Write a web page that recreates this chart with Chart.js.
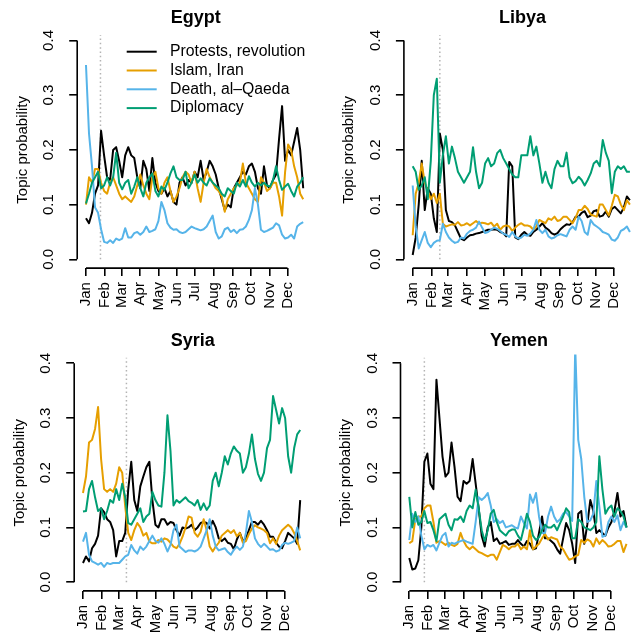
<!DOCTYPE html>
<html>
<head>
<meta charset="utf-8">
<title>Topic probability by country, 2011</title>
<script src="https://cdn.jsdelivr.net/npm/chart.js@4.4.1/dist/chart.umd.min.js"></script>
<style>
  html, body { margin: 0; padding: 0; background: #fff; }
  #sheet { position: relative; width: 634px; height: 638px; overflow: hidden; }
  #sheet canvas { position: absolute; }
</style>
</head>
<body>
<div id="sheet">
  <canvas id="egypt" width="320" height="319" style="left:0px;top:0px"></canvas>
  <canvas id="libya" width="320" height="319" style="left:326px;top:0px"></canvas>
  <canvas id="syria" width="320" height="319" style="left:0px;top:319px"></canvas>
  <canvas id="yemen" width="320" height="319" style="left:326px;top:319px"></canvas>
</div>
<script>
// day of year 2011 (0 = 1 Jan), one reading every 5 days
const days = [0,5,10,15,20,25,30,35,40,45,50,55,60,65,70,75,80,85,90,95,
  100,105,110,115,120,125,130,135,140,145,150,155,160,165,170,175,180,185,190,195,
  200,205,210,215,220,225,230,235,240,245,250,255,260,265,270,275,280,285,290,295,
  300,305,310,315,320,325,330,335,340,345,350,355,360];

const monthStarts = [0, 31, 59, 90, 120, 151, 181, 212, 243, 273, 304, 334];
const monthNames = ['Jan','Feb','Mar','Apr','May','Jun','Jul','Aug','Sep','Oct','Nov','Dec'];
const probTicks = [0, 0.1, 0.2, 0.3, 0.4];

const topicNames = ['Protests, revolution', 'Islam, Iran', 'Death, al\u2013Qaeda', 'Diplomacy'];
const topicColors = ['#000000', '#E69F00', '#56B4E9', '#009E73'];

// day the uprising started (dotted line)
const egyptStart = 24;
const libyaStart = 45;
const syriaStart = 72;
const yemenStart = 25;

// ---- Egypt
const egyptProtests = [0.075,0.066,0.085,0.12,0.135,0.235,0.19,0.15,0.145,0.2,
  0.205,0.18,0.15,0.19,0.205,0.19,0.185,0.15,0.13,0.18,
  0.165,0.125,0.185,0.14,0.125,0.12,0.13,0.115,0.125,0.105,
  0.10,0.14,0.15,0.135,0.145,0.14,0.16,0.15,0.18,0.145,
  0.16,0.18,0.17,0.155,0.13,0.11,0.09,0.10,0.095,0.13,
  0.14,0.15,0.16,0.155,0.17,0.175,0.16,0.13,0.12,0.17,
  0.135,0.13,0.145,0.155,0.22,0.28,0.18,0.2,0.19,0.215,
  0.24,0.2,0.13];
const egyptIslam = [0.10,0.15,0.14,0.165,0.165,0.14,0.125,0.12,0.14,0.15,
  0.135,0.12,0.11,0.115,0.11,0.105,0.115,0.135,0.155,0.135,
  0.12,0.11,0.15,0.16,0.13,0.12,0.14,0.15,0.125,0.105,
  0.115,0.13,0.15,0.16,0.155,0.14,0.16,0.13,0.105,0.14,
  0.165,0.15,0.14,0.13,0.125,0.115,0.087,0.11,0.12,0.13,
  0.135,0.14,0.175,0.14,0.13,0.12,0.11,0.105,0.15,0.14,
  0.125,0.13,0.14,0.14,0.115,0.08,0.16,0.21,0.2,0.17,
  0.15,0.12,0.11];
const egyptDeath = [0.355,0.23,0.17,0.095,0.085,0.055,0.032,0.03,0.035,0.03,
  0.038,0.035,0.038,0.057,0.04,0.04,0.048,0.05,0.045,0.05,
  0.06,0.05,0.052,0.055,0.07,0.105,0.09,0.066,0.058,0.054,
  0.055,0.05,0.048,0.05,0.055,0.06,0.057,0.055,0.053,0.055,
  0.06,0.07,0.08,0.05,0.038,0.042,0.055,0.058,0.05,0.054,
  0.048,0.054,0.055,0.06,0.072,0.09,0.13,0.1,0.054,0.05,
  0.052,0.055,0.058,0.066,0.062,0.045,0.038,0.04,0.045,0.038,
  0.06,0.065,0.068];
const egyptDiplomacy = [0.102,0.12,0.14,0.15,0.16,0.13,0.135,0.15,0.135,0.15,
  0.195,0.14,0.128,0.14,0.145,0.12,0.133,0.15,0.13,0.115,
  0.14,0.15,0.157,0.125,0.115,0.133,0.127,0.14,0.157,0.17,
  0.15,0.145,0.145,0.16,0.13,0.14,0.155,0.14,0.148,0.14,
  0.135,0.148,0.14,0.135,0.13,0.12,0.115,0.13,0.125,0.12,
  0.14,0.133,0.145,0.133,0.152,0.14,0.133,0.14,0.135,0.14,
  0.135,0.133,0.145,0.17,0.145,0.127,0.133,0.138,0.125,0.115,
  0.133,0.14,0.15];

// ---- Libya
const libyaProtests = [0.008,0.04,0.10,0.18,0.09,0.13,0.12,0.075,0.05,0.23,
  0.2,0.09,0.07,0.068,0.062,0.05,0.038,0.035,0.04,0.044,
  0.045,0.047,0.048,0.05,0.052,0.054,0.054,0.055,0.054,0.05,
  0.048,0.042,0.178,0.17,0.04,0.037,0.045,0.05,0.045,0.043,
  0.05,0.054,0.06,0.066,0.058,0.054,0.048,0.045,0.048,0.055,
  0.06,0.064,0.063,0.068,0.078,0.078,0.085,0.088,0.077,0.08,
  0.088,0.09,0.078,0.08,0.087,0.078,0.092,0.096,0.09,0.084,
  0.095,0.115,0.108];
const libyaIslam = [0.044,0.12,0.14,0.175,0.14,0.125,0.11,0.12,0.103,0.12,
  0.065,0.06,0.062,0.064,0.063,0.068,0.062,0.063,0.066,0.062,
  0.066,0.07,0.065,0.067,0.066,0.064,0.067,0.06,0.065,0.054,
  0.06,0.062,0.06,0.052,0.058,0.063,0.066,0.062,0.062,0.06,
  0.054,0.06,0.072,0.069,0.066,0.075,0.072,0.078,0.07,0.072,
  0.078,0.078,0.072,0.066,0.076,0.09,0.09,0.098,0.092,0.082,
  0.08,0.078,0.10,0.10,0.09,0.08,0.098,0.118,0.115,0.1,
  0.09,0.108,0.10];
const libyaDeath = [0.135,0.06,0.02,0.035,0.05,0.03,0.022,0.03,0.034,0.035,
  0.065,0.05,0.04,0.034,0.03,0.032,0.04,0.038,0.047,0.052,
  0.054,0.058,0.069,0.058,0.048,0.05,0.054,0.058,0.056,0.052,
  0.047,0.045,0.041,0.05,0.042,0.038,0.04,0.045,0.043,0.047,
  0.054,0.072,0.054,0.048,0.054,0.042,0.038,0.04,0.044,0.046,
  0.044,0.042,0.054,0.06,0.054,0.078,0.07,0.05,0.045,0.072,
  0.064,0.06,0.056,0.05,0.048,0.045,0.036,0.034,0.04,0.052,
  0.055,0.06,0.05];
const libyaDiplomacy = [0.17,0.16,0.127,0.135,0.15,0.11,0.18,0.30,0.33,0.14,
  0.19,0.225,0.175,0.206,0.185,0.16,0.15,0.14,0.15,0.16,
  0.205,0.16,0.13,0.14,0.175,0.185,0.17,0.175,0.194,0.2,
  0.185,0.175,0.165,0.155,0.15,0.15,0.19,0.19,0.19,0.225,
  0.19,0.206,0.175,0.14,0.16,0.14,0.13,0.165,0.18,0.17,
  0.17,0.195,0.15,0.139,0.143,0.151,0.145,0.135,0.145,0.157,
  0.175,0.18,0.17,0.218,0.195,0.18,0.121,0.16,0.17,0.165,
  0.17,0.16,0.16];

// ---- Syria
const syriaProtests = [0.035,0.047,0.038,0.062,0.07,0.085,0.135,0.128,0.115,0.11,
  0.095,0.047,0.075,0.075,0.09,0.17,0.22,0.15,0.13,0.175,
  0.193,0.21,0.22,0.15,0.105,0.1,0.115,0.115,0.105,0.11,
  0.108,0.095,0.085,0.1,0.098,0.1,0.105,0.095,0.1,0.108,
  0.11,0.108,0.098,0.112,0.1,0.08,0.075,0.08,0.072,0.07,
  0.06,0.078,0.09,0.075,0.08,0.095,0.11,0.11,0.105,0.112,
  0.105,0.095,0.083,0.083,0.072,0.065,0.062,0.075,0.09,0.085,
  0.08,0.07,0.15];
const syriaIslam = [0.163,0.193,0.255,0.26,0.28,0.32,0.225,0.17,0.165,0.17,
  0.165,0.18,0.21,0.2,0.138,0.09,0.077,0.095,0.108,0.1,
  0.085,0.09,0.074,0.071,0.071,0.077,0.074,0.08,0.078,0.072,
  0.065,0.062,0.07,0.083,0.1,0.12,0.118,0.09,0.083,0.092,
  0.115,0.095,0.065,0.056,0.065,0.072,0.085,0.09,0.095,0.09,
  0.095,0.084,0.09,0.072,0.075,0.088,0.098,0.104,0.1,0.098,
  0.095,0.09,0.071,0.08,0.07,0.085,0.095,0.1,0.105,0.1,
  0.09,0.075,0.058];
const syriaDeath = [0.074,0.09,0.05,0.038,0.035,0.032,0.035,0.028,0.035,0.033,
  0.035,0.035,0.035,0.041,0.047,0.05,0.068,0.058,0.052,0.065,
  0.059,0.065,0.075,0.085,0.075,0.072,0.08,0.07,0.056,0.068,
  0.095,0.105,0.065,0.06,0.055,0.058,0.058,0.056,0.059,0.065,
  0.08,0.095,0.115,0.085,0.065,0.058,0.06,0.062,0.055,0.05,
  0.059,0.065,0.059,0.065,0.09,0.13,0.11,0.08,0.07,0.064,
  0.07,0.065,0.059,0.06,0.056,0.058,0.068,0.072,0.07,0.072,
  0.075,0.1,0.08];
const syriaDiplomacy = [0.129,0.13,0.17,0.185,0.155,0.13,0.135,0.115,0.13,0.15,
  0.145,0.17,0.15,0.18,0.155,0.108,0.105,0.115,0.125,0.135,
  0.11,0.12,0.125,0.165,0.15,0.14,0.138,0.2,0.305,0.24,
  0.14,0.15,0.145,0.15,0.155,0.148,0.145,0.14,0.15,0.132,
  0.144,0.132,0.14,0.185,0.2,0.175,0.2,0.23,0.215,0.235,
  0.248,0.24,0.235,0.2,0.21,0.235,0.27,0.225,0.198,0.185,
  0.2,0.245,0.26,0.34,0.315,0.29,0.318,0.3,0.23,0.2,
  0.245,0.27,0.278];

// ---- Yemen
const yemenProtests = [0.044,0.023,0.025,0.04,0.1,0.22,0.235,0.18,0.17,0.37,
  0.3,0.23,0.193,0.2,0.255,0.21,0.156,0.148,0.185,0.18,
  0.185,0.225,0.18,0.135,0.085,0.065,0.1,0.11,0.075,0.08,
  0.07,0.072,0.075,0.068,0.07,0.07,0.077,0.07,0.065,0.075,
  0.07,0.06,0.062,0.09,0.12,0.08,0.08,0.075,0.07,0.06,
  0.052,0.08,0.108,0.095,0.07,0.035,0.125,0.13,0.07,0.105,
  0.15,0.13,0.09,0.095,0.09,0.085,0.1,0.11,0.13,0.163,
  0.12,0.13,0.1];
const yemenIslam = [0.071,0.075,0.115,0.12,0.12,0.135,0.14,0.14,0.11,0.072,
  0.075,0.072,0.068,0.072,0.068,0.066,0.07,0.09,0.075,0.065,
  0.06,0.065,0.06,0.055,0.053,0.05,0.047,0.05,0.05,0.041,
  0.055,0.068,0.065,0.06,0.065,0.065,0.07,0.06,0.065,0.06,
  0.095,0.06,0.065,0.07,0.08,0.088,0.078,0.082,0.08,0.078,
  0.065,0.06,0.05,0.041,0.043,0.047,0.05,0.077,0.072,0.078,
  0.075,0.065,0.08,0.07,0.077,0.072,0.065,0.066,0.07,0.075,
  0.075,0.055,0.07];
const yemenDeath = [0.077,0.125,0.11,0.12,0.085,0.06,0.068,0.065,0.068,0.058,
  0.072,0.085,0.09,0.065,0.072,0.07,0.073,0.075,0.077,0.074,
  0.072,0.07,0.11,0.155,0.15,0.155,0.163,0.14,0.11,0.115,
  0.108,0.112,0.1,0.102,0.104,0.1,0.098,0.12,0.108,0.098,
  0.16,0.145,0.163,0.12,0.09,0.09,0.12,0.138,0.12,0.11,
  0.115,0.125,0.128,0.12,0.112,0.43,0.26,0.225,0.156,0.11,
  0.113,0.125,0.185,0.138,0.083,0.085,0.11,0.12,0.11,0.122,
  0.095,0.11,0.1];
const yemenDiplomacy = [0.156,0.1,0.128,0.105,0.11,0.13,0.108,0.11,0.095,0.075,
  0.115,0.12,0.125,0.105,0.095,0.115,0.114,0.12,0.11,0.13,
  0.14,0.135,0.169,0.135,0.095,0.075,0.095,0.125,0.132,0.11,
  0.095,0.09,0.085,0.093,0.096,0.096,0.085,0.077,0.1,0.125,
  0.11,0.085,0.077,0.082,0.095,0.105,0.1,0.1,0.105,0.095,
  0.108,0.12,0.135,0.128,0.08,0.08,0.115,0.11,0.1,0.098,
  0.095,0.1,0.11,0.23,0.17,0.125,0.135,0.14,0.12,0.135,
  0.13,0.12,0.1];

// layout of the four panels (px, relative to each canvas)
const canvasW = 320, canvasH = 319;
const areaW = 237.2, areaH = 236.4;
const panels = [
  { id: 'egypt', name: 'Egypt', start: egyptStart, series: [egyptProtests, egyptIslam, egyptDeath, egyptDiplomacy],
    areaLeft: 77.2, areaTop: 31.7, titleMid: 17.6, yTitleX: 23, legend: true },
  { id: 'libya', name: 'Libya', start: libyaStart, series: [libyaProtests, libyaIslam, libyaDeath, libyaDiplomacy],
    areaLeft: 77.9, areaTop: 31.7, titleMid: 17.6, yTitleX: 23 },
  { id: 'syria', name: 'Syria', start: syriaStart, series: [syriaProtests, syriaIslam, syriaDeath, syriaDiplomacy],
    areaLeft: 74.2, areaTop: 35.5, titleMid: 22.5, yTitleX: 20 },
  { id: 'yemen', name: 'Yemen', start: yemenStart, series: [yemenProtests, yemenIslam, yemenDeath, yemenDiplomacy],
    areaLeft: 74.5, areaTop: 35.5, titleMid: 22.5, yTitleX: 19.7 }
];

Chart.defaults.font.family = '"Liberation Sans", Arial, Helvetica, sans-serif';
Chart.defaults.color = '#000';

// R style axis lines: only from first to last tick
const rAxes = {
  id: 'rAxes',
  afterDraw(chart) {
    const { ctx, chartArea, scales } = chart;
    ctx.save();
    ctx.strokeStyle = '#000';
    ctx.lineWidth = 1.6;
    ctx.beginPath();
    ctx.moveTo(chartArea.left, scales.y.getPixelForValue(probTicks[0]));
    ctx.lineTo(chartArea.left, scales.y.getPixelForValue(probTicks[probTicks.length - 1]));
    ctx.moveTo(scales.x.getPixelForValue(monthStarts[0]), chartArea.bottom);
    ctx.lineTo(scales.x.getPixelForValue(monthStarts[monthStarts.length - 1]), chartArea.bottom);
    ctx.stroke();
    ctx.restore();
  }
};

// legend inside the plot, top right (Egypt only)
const topicLegend = {
  id: 'topicLegend',
  afterDraw(chart) {
    const { ctx, chartArea } = chart;
    const items = chart.data.datasets.filter(ds => ds.inLegend);
    ctx.save();
    ctx.font = '15.8px "Liberation Sans", Arial, Helvetica, sans-serif';
    ctx.textBaseline = 'middle';
    ctx.textAlign = 'left';
    items.forEach((ds, i) => {
      const y = chartArea.top + 20 + i * 18.8;
      ctx.strokeStyle = ds.borderColor;
      ctx.lineWidth = 2;
      ctx.beginPath();
      ctx.moveTo(chartArea.left + 49.5, y);
      ctx.lineTo(chartArea.left + 79.5, y);
      ctx.stroke();
      ctx.fillStyle = '#000';
      ctx.fillText(ds.label, chartArea.left + 92.8, y);
    });
    ctx.restore();
  }
};

function makeChart(p) {
  const datasets = p.series.map((vals, i) => ({
    label: topicNames[i],
    data: days.map((d, k) => ({ x: d, y: vals[k] })),
    borderColor: topicColors[i],
    borderWidth: 2,
    borderJoinStyle: 'round',
    pointRadius: 0,
    tension: 0,
    order: 4 - i,
    inLegend: true
  }));
  datasets.push({
    label: 'start',
    data: [{ x: p.start, y: 0 }, { x: p.start, y: 0.41 }],
    borderColor: '#b3b3b3',
    borderWidth: 1.5,
    borderDash: [1.5, 2.8],
    pointRadius: 0,
    order: 10
  });

  const tickGrid = { display: true, drawOnChartArea: false, drawTicks: true, tickLength: 8, color: '#000', lineWidth: 1.6 };

  new Chart(document.getElementById(p.id), {
    type: 'line',
    data: { datasets },
    options: {
      responsive: false,
      animation: false,
      events: [],
      layout: { padding: { left: 0, top: 0, bottom: 0, right: canvasW - p.areaLeft - areaW } },
      plugins: {
        legend: { display: false },
        tooltip: { enabled: false },
        title: {
          display: true,
          text: p.name,
          fullSize: false,
          font: { size: 18, weight: 'bold', lineHeight: 1.2 },
          color: '#000',
          padding: { top: p.titleMid - 10.8, bottom: p.areaTop - p.titleMid - 10.8 }
        }
      },
      scales: {
        x: {
          type: 'linear',
          bounds: 'data',
          min: -14.56,
          max: 378.56,
          grid: tickGrid,
          border: { display: false },
          afterBuildTicks: s => { s.ticks = monthStarts.map(v => ({ value: v })); },
          afterFit: s => { s.height = canvasH - p.areaTop - areaH; },
          ticks: {
            autoSkip: false,
            minRotation: 90,
            maxRotation: 90,
            padding: 6,
            font: { size: 15 },
            callback: (v, i) => monthNames[i]
          }
        },
        y: {
          type: 'linear',
          bounds: 'data',
          min: -0.016,
          max: 0.416,
          grid: tickGrid,
          border: { display: false },
          afterBuildTicks: s => { s.ticks = probTicks.map(v => ({ value: v })); },
          afterFit: s => { s.width = p.areaLeft; },
          title: {
            display: true,
            text: 'Topic probability',
            font: { size: 15, lineHeight: 1.2 },
            padding: { top: p.yTitleX - 9, bottom: 0 }
          },
          ticks: {
            autoSkip: false,
            minRotation: 90,
            maxRotation: 90,
            crossAlign: 'center',
            padding: 9.6,
            font: { size: 15 },
            callback: v => v.toFixed(1)
          }
        }
      }
    },
    plugins: p.legend ? [rAxes, topicLegend] : [rAxes]
  });
}

panels.forEach(makeChart);
</script>
</body>
</html>
